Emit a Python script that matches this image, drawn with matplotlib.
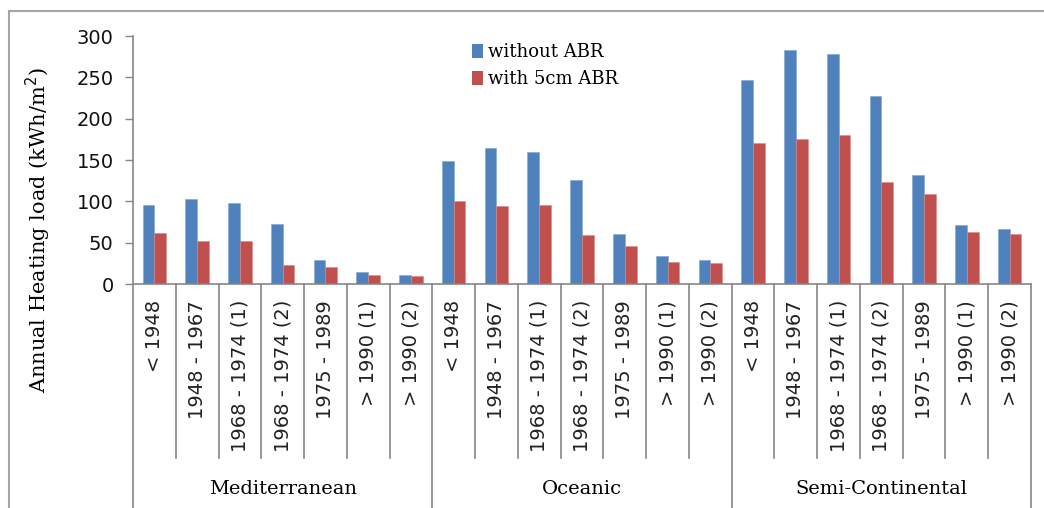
import matplotlib
matplotlib.use("Agg")
import matplotlib.pyplot as plt
from matplotlib.lines import Line2D
from matplotlib.patches import Patch
import numpy as np

# data
groups = ["Mediterranean", "Oceanic", "Semi-Continental"]
periods = ["< 1948", "1948 - 1967", "1968 - 1974 (1)", "1968 - 1974 (2)",
           "1975 - 1989", "> 1990 (1)", "> 1990 (2)"]
without_abr = [96, 103, 98, 73, 29, 14, 11,
               149, 165, 160, 126, 61, 34, 29,
               247, 283, 278, 228, 132, 71, 66]
with_abr = [62, 52, 52, 23, 20, 11, 10,
            100, 94, 96, 59, 46, 27, 25,
            171, 175, 180, 123, 109, 63, 61]
legend_labels = ["without ABR", "with 5cm ABR"]

blue = "#4F81BD"
red = "#C0504D"
grey = "#868686"

W, H = 1044, 508
fig = plt.figure(figsize=(W / 100, H / 100), dpi=100)
ax = fig.add_axes([133 / W, 1 - 284 / H, (1031 - 133) / W, (284 - 36) / H])

n = len(without_abr)
x = np.arange(n)
bw = 0.275
ax.bar(x - bw / 2, without_abr, bw, color=blue, edgecolor="#7FA3D0", linewidth=0.4)
ax.bar(x + bw / 2, with_abr, bw, color=red, edgecolor="#D88886", linewidth=0.4)

ax.set_xlim(-0.5, n - 0.5)
ax.set_ylim(0, 300)
ax.set_yticks([0, 50, 100, 150, 200, 250, 300])
ax.tick_params(axis="y", length=6, width=1, color=grey, labelsize=14, pad=8)
for s in ["top", "right"]:
    ax.spines[s].set_visible(False)
for s in ["left", "bottom"]:
    ax.spines[s].set_color(grey)
    ax.spines[s].set_linewidth(1.2)

ax.set_xticks(x)
ax.set_xticklabels(periods * len(groups), rotation=90, fontsize=14, color="#222222")
ax.tick_params(axis="x", length=0, pad=11.5)
ax.tick_params(axis="y", labelcolor="#111111")

# category dividers below the axis
tr = ax.get_xaxis_transform()
for i in range(n + 1):
    xb = i - 0.5
    if i % len(periods) == 0:
        ax.add_line(Line2D([xb, xb], [0, -0.95], transform=tr, color=grey,
                           lw=1.2, clip_on=False))
    else:
        ax.add_line(Line2D([xb, xb], [0, -0.70], transform=tr, color=grey,
                           lw=1.2, clip_on=False))

for g, name in enumerate(groups):
    xc = g * len(periods) + (len(periods) - 1) / 2
    ax.text(xc, -0.826, name, transform=tr, ha="center", va="center",
            fontsize=14, family="DejaVu Serif")

ax.set_ylabel("Annual Heating load (kWh/m$^2$)", fontsize=15,
              family="DejaVu Serif")
ax.yaxis.set_label_coords(-0.089, 0.218)

handles = [Patch(facecolor=blue), Patch(facecolor=red)]
fig.legend(handles, legend_labels, loc="upper left",
           bbox_to_anchor=(472 / W, 1 - 43 / H), bbox_transform=fig.transFigure,
           frameon=False, borderpad=0, borderaxespad=0, handlelength=0.6,
           handleheight=0.78, handletextpad=0.3, labelspacing=0.5,
           prop={"family": "DejaVu Serif", "size": 13})

# outer chart frame (top and left edges visible)
fig.add_artist(Line2D([9 / W, 9 / W], [0, 1 - 11 / H], transform=fig.transFigure,
                      color="#A6A6A6", lw=1.5))
fig.add_artist(Line2D([9 / W, 1], [1 - 11 / H, 1 - 11 / H], transform=fig.transFigure,
                      color="#A6A6A6", lw=1.5))

fig.savefig("out.png", dpi=100)
